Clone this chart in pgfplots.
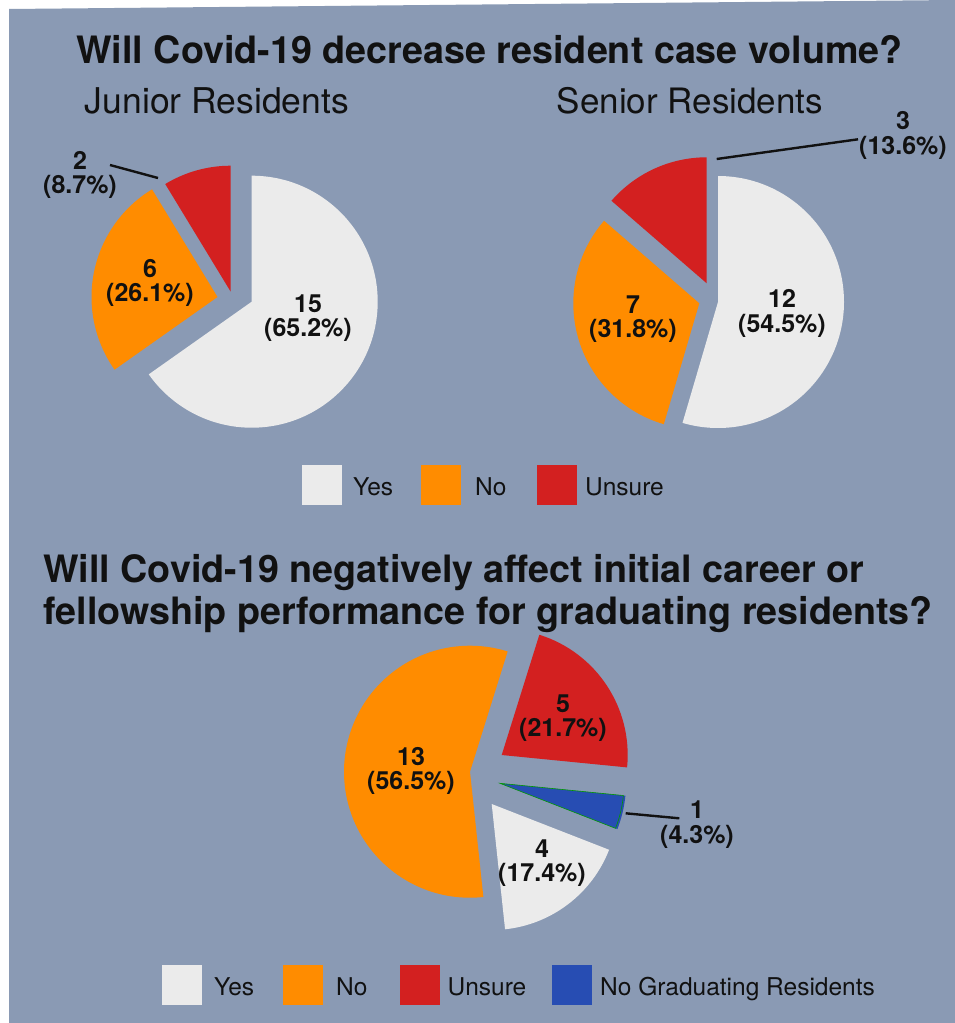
\documentclass[border=0pt]{standalone}
\usepackage{fontspec}
\setmainfont{TeX Gyre Heros}
\usepackage{pgfplots}
\pgfplotsset{compat=1.18}

\definecolor{bg}{HTML}{8A9AB4}
\definecolor{cyes}{HTML}{EBEBEB}
\definecolor{cno}{HTML}{FF8C00}
\definecolor{cuns}{HTML}{D32020}
\definecolor{cng}{HTML}{274DB3}
\definecolor{ink}{HTML}{111111}

\tikzset{
  lab/.style={anchor=base, inner sep=0pt, text=ink, font=\bfseries\fontsize{25}{25}\selectfont},
  key/.style={anchor=base west, inner sep=0pt, text=ink, font=\fontsize{24.5}{26}\selectfont},
}

\newcommand\R{126pt}
% \slice{tip x}{tip y}{start angle}{count before}{count}{total}{colour}
\newcommand\slice[7]{%
  \fill[#7] (axis cs:#1,#2) -- ++({#3-360*#4/#6}:\R)
    arc[start angle={#3-360*#4/#6}, delta angle={-360*#5/#6}, radius=\R] -- cycle;}
% \lbl{x}{baseline 1}{baseline 2}{count}{percent}
\newcommand\lbl[5]{%
  \node[lab] at (axis cs:#1,#2) {#4};
  \node[lab] at (axis cs:#1,#3) {#5};}

\begin{document}
\begin{tikzpicture}
\begin{axis}[
    x=1pt, y=1pt, y dir=reverse,
    xmin=0, xmax=955, ymin=0, ymax=1023,
    hide axis, clip=false,
]
% background
\fill[white] (axis cs:0,0) rectangle (axis cs:955,1023);
\fill[bg] (axis cs:9,9) -- (axis cs:955,0) -- (axis cs:955,1023) -- (axis cs:9,1023) -- cycle;

% titles
\node[anchor=base, inner sep=0pt, text=ink, font=\bfseries\fontsize{37.7}{40}\selectfont]
  at (axis cs:489.5,63) {Will Covid-19 decrease resident case volume?};
\node[anchor=base, inner sep=0pt, text=ink, font=\fontsize{35.5}{38}\selectfont]
  at (axis cs:217,113) {Junior Residents};
\node[anchor=base, inner sep=0pt, text=ink, font=\fontsize{35}{38}\selectfont]
  at (axis cs:690,113) {Senior Residents};
\node[anchor=base west, inner sep=0pt, text=ink, font=\bfseries\fontsize{37.7}{40}\selectfont]
  at (axis cs:43,582) {Will Covid-19 negatively affect initial career or};
\node[anchor=base west, inner sep=0pt, text=ink, font=\bfseries\fontsize{37.7}{40}\selectfont]
  at (axis cs:43,624) {fellowship performance for graduating residents?};

% junior residents: yes 15, no 6, unsure 2 (n = 23)
\slice{251.7}{301.7}{90}{0}{15}{23}{cyes}
\slice{217.5}{297}{90}{15}{6}{23}{cno}
\slice{230.7}{291.7}{90}{21}{2}{23}{cuns}
\lbl{308}{312}{336}{15}{(65.2\%)}
\lbl{150}{277}{301}{6}{(26.1\%)}
\lbl{80}{169}{193}{2}{(8.7\%)}
\draw[ink, line width=2.4pt] (axis cs:110,165) -- (axis cs:158,178);

% senior residents: yes 12, no 7, unsure 3 (n = 22)
\slice{718}{302}{90}{0}{12}{22}{cyes}
\slice{699.3}{303.3}{90}{12}{7}{22}{cno}
\slice{706.7}{283.3}{90}{19}{3}{22}{cuns}
\lbl{782}{307}{332}{12}{(54.5\%)}
\lbl{633}{313}{337}{7}{(31.8\%)}
\lbl{903}{129}{154}{3}{(13.6\%)}
\draw[ink, line width=2.4pt] (axis cs:716.7,159) -- (axis cs:858,139.3);

% legend 1
\fill[cyes] (axis cs:301.7,465) rectangle (axis cs:341.7,505);
\node[key] at (axis cs:353,495) {Yes};
\fill[cno] (axis cs:421,465) rectangle (axis cs:461,505);
\node[key] at (axis cs:475,495) {No};
\fill[cuns] (axis cs:537,465) rectangle (axis cs:577,505);
\node[key] at (axis cs:585,495) {Unsure};

% career question: yes 4, no 13, unsure 5, no graduating residents 1 (n = 23)
\slice{491.7}{804}{-21.3}{0}{4}{23}{cyes}
\slice{470}{771.7}{-21.3}{4}{13}{23}{cno}
\slice{501.7}{755}{-21.3}{17}{5}{23}{cuns}
\slice{500}{783.3}{-21.3}{22}{1}{23}{cng}
\draw[green!60!black, line width=0.6pt] (axis cs:500,783.3) -- ++(-5.65:124pt)
  arc[start angle=-5.65, delta angle=-15.65, radius=124pt] -- cycle;
\lbl{411}{765}{789}{13}{(56.5\%)}
\lbl{563}{712}{736}{5}{(21.7\%)}
\lbl{542}{857}{881}{4}{(17.4\%)}
\lbl{697}{818}{843}{1}{(4.3\%)}
\draw[ink, line width=2.4pt] (axis cs:625.7,813.3) -- (axis cs:679.3,818.3);

% legend 2
\fill[cyes] (axis cs:162,965) rectangle (axis cs:202,1005);
\node[key] at (axis cs:214,995) {Yes};
\fill[cno] (axis cs:282.5,965) rectangle (axis cs:322.5,1005);
\node[key] at (axis cs:336,995) {No};
\fill[cuns] (axis cs:399.5,965) rectangle (axis cs:439.5,1005);
\node[key] at (axis cs:447.5,995) {Unsure};
\fill[cng] (axis cs:551.5,965) rectangle (axis cs:591.5,1005);
\node[key] at (axis cs:600,995) {No Graduating Residents};
\end{axis}
\end{tikzpicture}
\end{document}
